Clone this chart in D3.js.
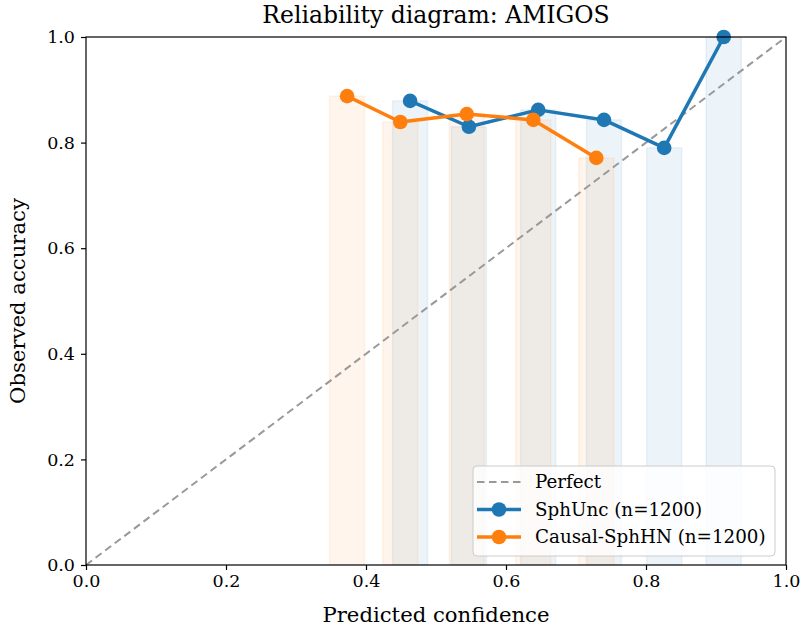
<!DOCTYPE html>
<html>
<head>
<meta charset="utf-8">
<script src="https://cdn.jsdelivr.net/npm/d3@7"></script>
<style>
  html, body { margin: 0; padding: 0; background: #fff; }
  svg { display: block; font-family: "DejaVu Serif", serif; }
</style>
</head>
<body>
<svg id="chart" width="801" height="630"></svg>
<script>
// Reliability data per bin: mean predicted confidence and observed accuracy
const sphUncConf = [0.463, 0.547, 0.646, 0.740, 0.826, 0.911];
const sphUncAcc  = [0.879, 0.830, 0.862, 0.843, 0.790, 1.000];
const causalConf = [0.373, 0.449, 0.544, 0.639, 0.729];
const causalAcc  = [0.888, 0.839, 0.854, 0.843, 0.771];
const xTicks = [0.0, 0.2, 0.4, 0.6, 0.8, 1.0];
const yTicks = [0.0, 0.2, 0.4, 0.6, 0.8, 1.0];
const seriesNames = ["SphUnc (n=1200)", "Causal-SphHN (n=1200)"];
const seriesColors = ["#1f77b4", "#ff7f0e"];
const barWidth = 0.05;

const series = [
  { name: seriesNames[0], color: seriesColors[0], conf: sphUncConf, acc: sphUncAcc },
  { name: seriesNames[1], color: seriesColors[1], conf: causalConf, acc: causalAcc }
];

const svg = d3.select("#chart");
const margin = { left: 86, right: 15, top: 37, bottom: 65 };
const W = 801, H = 630;
const x = d3.scaleLinear().domain([0, 1]).range([margin.left, W - margin.right]);
const y = d3.scaleLinear().domain([0, 1]).range([H - margin.bottom, margin.top]);

const defs = svg.append("defs");
defs.append("clipPath").attr("id", "plotClip")
  .append("rect")
  .attr("x", x(0)).attr("y", y(1))
  .attr("width", x(1) - x(0)).attr("height", y(0) - y(1));

const plot = svg.append("g").attr("clip-path", "url(#plotClip)");

// Translucent accuracy bars
series.forEach(s => {
  plot.append("g").selectAll("rect")
    .data(s.conf.map((c, i) => ({ c, a: s.acc[i] })))
    .join("rect")
    .attr("x", d => x(d.c - barWidth / 2))
    .attr("y", d => y(d.a))
    .attr("width", d => x(d.c + barWidth / 2) - x(d.c - barWidth / 2))
    .attr("height", d => y(0) - y(d.a))
    .attr("fill", s.color).attr("fill-opacity", 0.08)
    .attr("stroke", s.color).attr("stroke-opacity", 0.08).attr("stroke-width", 1.5);
});

// Perfect calibration diagonal
plot.append("line")
  .attr("x1", x(0)).attr("y1", y(0)).attr("x2", x(1)).attr("y2", y(1))
  .attr("stroke", "#999999").attr("stroke-width", 2)
  .attr("stroke-dasharray", "7.5,4.5");

// Series lines and markers
series.forEach(s => {
  const pts = s.conf.map((c, i) => [c, s.acc[i]]);
  plot.append("path")
    .datum(pts)
    .attr("d", d3.line().x(d => x(d[0])).y(d => y(d[1])))
    .attr("fill", "none").attr("stroke", s.color)
    .attr("stroke-width", 3.5).attr("stroke-linejoin", "round");
});
series.forEach(s => {
  svg.append("g").selectAll("circle")
    .data(s.conf.map((c, i) => [c, s.acc[i]]))
    .join("circle")
    .attr("cx", d => x(d[0])).attr("cy", d => y(d[1]))
    .attr("r", 7.3).attr("fill", s.color);
});

// Axes
const fmt = d3.format(".1f");
const xAxis = svg.append("g")
  .attr("transform", `translate(0,${y(0)})`)
  .call(d3.axisBottom(x).tickValues(xTicks).tickFormat(fmt).tickSize(5).tickPadding(5));
const yAxis = svg.append("g")
  .attr("transform", `translate(${x(0)},0)`)
  .call(d3.axisLeft(y).tickValues(yTicks).tickFormat(fmt).tickSize(5).tickPadding(6));
[xAxis, yAxis].forEach(a => {
  a.selectAll("text").attr("font-family", "DejaVu Serif").attr("font-size", 17.5).attr("fill", "#000");
  a.selectAll("line").attr("stroke", "#000").attr("stroke-width", 1.2);
  a.select(".domain").remove();
});

// Frame
svg.append("rect")
  .attr("x", x(0)).attr("y", y(1))
  .attr("width", x(1) - x(0)).attr("height", y(0) - y(1))
  .attr("fill", "none").attr("stroke", "#000").attr("stroke-width", 1.2);

// Titles
svg.append("text")
  .attr("x", (x(0) + x(1)) / 2).attr("y", 23)
  .attr("text-anchor", "middle").attr("font-size", 23.5).attr("fill", "#000")
  .text("Reliability diagram: AMIGOS");
svg.append("text")
  .attr("x", (x(0) + x(1)) / 2).attr("y", 622)
  .attr("text-anchor", "middle").attr("font-size", 21.2).attr("fill", "#000")
  .text("Predicted confidence");
svg.append("text")
  .attr("transform", `translate(25,${(y(0) + y(1)) / 2}) rotate(-90)`)
  .attr("text-anchor", "middle").attr("font-size", 21.2).attr("fill", "#000")
  .text("Observed accuracy");

// Legend
const leg = svg.append("g").attr("transform", "translate(473,466)");
leg.append("rect")
  .attr("width", 302).attr("height", 90).attr("rx", 4)
  .attr("fill", "#fff").attr("fill-opacity", 0.8)
  .attr("stroke", "#cccccc").attr("stroke-width", 1);
const entries = [
  { label: "Perfect", color: "#999999", dash: "7.5,4.5", marker: false },
  { label: seriesNames[0], color: seriesColors[0], dash: null, marker: true },
  { label: seriesNames[1], color: seriesColors[1], dash: null, marker: true }
];
entries.forEach((e, i) => {
  const cy = 16 + i * 27.5;
  leg.append("line")
    .attr("x1", 4).attr("x2", 48).attr("y1", cy).attr("y2", cy)
    .attr("stroke", e.color).attr("stroke-width", e.marker ? 3.5 : 2)
    .attr("stroke-dasharray", e.dash);
  if (e.marker) {
    leg.append("circle").attr("cx", 26).attr("cy", cy).attr("r", 7.3).attr("fill", e.color);
  }
  leg.append("text")
    .attr("x", 62).attr("y", cy).attr("dy", "0.35em")
    .attr("font-size", 18.3).attr("fill", "#000")
    .text(e.label);
});
</script>
</body>
</html>
